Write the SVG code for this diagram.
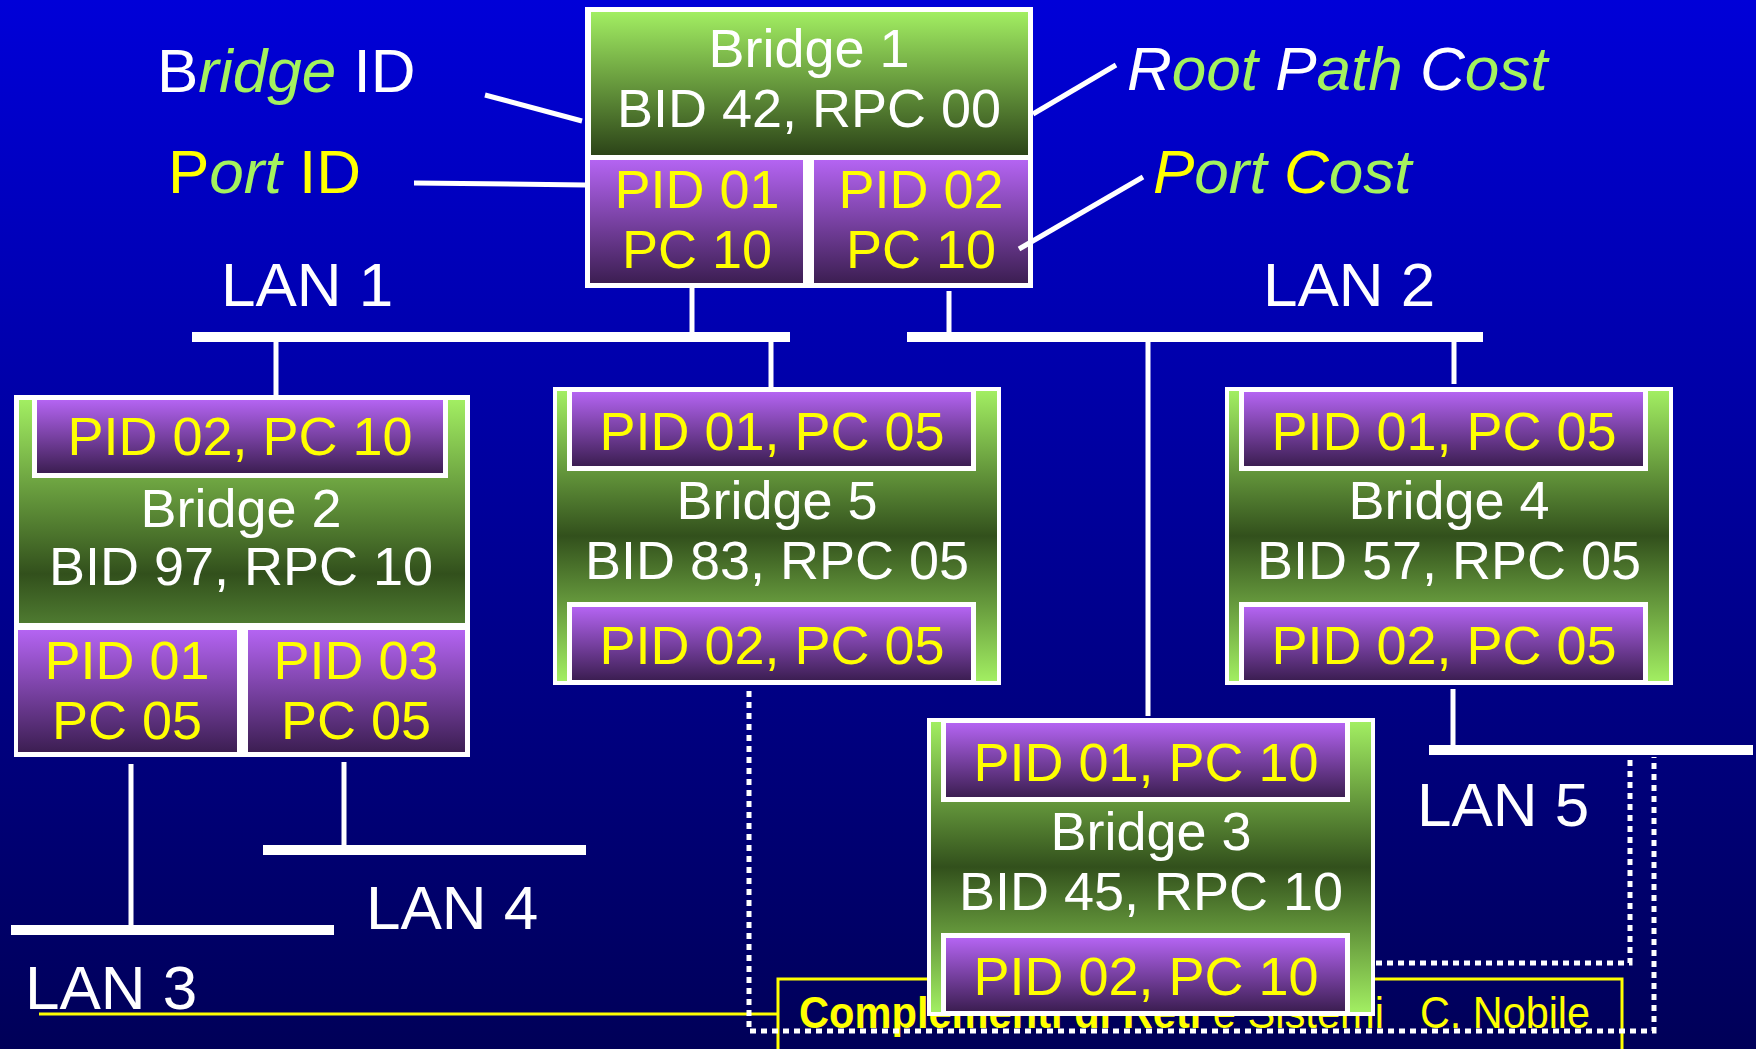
<svg xmlns="http://www.w3.org/2000/svg" width="1756" height="1049" viewBox="0 0 1756 1049">
<defs>
  <linearGradient id="bg" x1="0" y1="0" x2="0" y2="1">
    <stop offset="0" stop-color="#0000d8"/>
    <stop offset="1" stop-color="#000058"/>
  </linearGradient>
  <linearGradient id="purple" x1="0" y1="0" x2="0" y2="1">
    <stop offset="0" stop-color="#b464f2"/>
    <stop offset="1" stop-color="#3c1e52"/>
  </linearGradient>
  <linearGradient id="greenDown" x1="0" y1="0" x2="0" y2="1">
    <stop offset="0" stop-color="#a2ee62"/>
    <stop offset="1" stop-color="#2c4418"/>
  </linearGradient>
  <linearGradient id="greenMid" x1="0" y1="0" x2="0" y2="1">
    <stop offset="0" stop-color="#a2ee62"/>
    <stop offset="0.5" stop-color="#32501c"/>
    <stop offset="1" stop-color="#a2ee62"/>
  </linearGradient>
  <linearGradient id="greenB2" x1="0" y1="0" x2="0" y2="1">
    <stop offset="0" stop-color="#a2ee62"/>
    <stop offset="0.78" stop-color="#32501c"/>
    <stop offset="1" stop-color="#4e7a30"/>
  </linearGradient>
</defs>
<style>
  text { font-family: "Liberation Sans", Arial, sans-serif; }
  .w { fill: #ffffff; }
  .y { fill: #ffff00; }
  .g { fill: #a4f25e; }
  .big { font-size: 54px; text-anchor: middle; }
  .lab { font-size: 62px; }
  .it { font-style: italic; }
  .frame { fill: #ffffff; }
  .port { fill: url(#purple); }
  .wire { stroke: #ffffff; stroke-width: 5; fill: none; }
  .bar { stroke: #ffffff; stroke-width: 10; fill: none; }
  .dot { stroke: #ffffff; stroke-width: 5; stroke-dasharray: 6 5; fill: none; }
  .foot { stroke: #ffff00; stroke-width: 3; fill: none; }
</style>

<rect x="0" y="0" width="1756" height="1049" fill="url(#bg)"/>

<g id="footer">
  <line class="foot" x1="39" y1="1014" x2="778" y2="1014"/>
  <rect class="foot" x="778" y="979" width="844" height="90"/>
  <text x="799" y="1028" font-size="44" class="y" textLength="585" lengthAdjust="spacingAndGlyphs"><tspan font-weight="bold">Complementi di Reti</tspan> e Sistemi</text>
  <text x="1420" y="1028" font-size="44" class="y" textLength="170" lengthAdjust="spacingAndGlyphs">C. Nobile</text>
</g>

<g id="labels">
  <text x="157" y="92" class="lab"><tspan class="w">B</tspan><tspan class="g it">ridge</tspan><tspan class="w"> ID</tspan></text>
  <text x="168" y="193" class="lab"><tspan class="y">P</tspan><tspan class="g it">ort</tspan><tspan class="y"> ID</tspan></text>
  <text x="1127" y="90" class="lab it"><tspan class="w">R</tspan><tspan class="g">oot</tspan><tspan class="w"> P</tspan><tspan class="g">ath</tspan><tspan class="w"> C</tspan><tspan class="g">ost</tspan></text>
  <text x="1153" y="193" class="lab it"><tspan class="y">P</tspan><tspan class="g">ort </tspan><tspan class="y">C</tspan><tspan class="g">ost</tspan></text>
</g>

<g id="lan1">
  <line class="bar" x1="192" y1="337" x2="790" y2="337"/>
  <text x="221" y="306" class="lab w">LAN 1</text>
</g>
<g id="lan2">
  <line class="bar" x1="907" y1="337" x2="1483" y2="337"/>
  <text x="1263" y="306" class="lab w">LAN 2</text>
</g>
<g id="lan3">
  <line class="bar" x1="11" y1="930" x2="334" y2="930"/>
  <text x="25" y="1009" class="lab w">LAN 3</text>
</g>
<g id="lan4">
  <line class="bar" x1="263" y1="850" x2="586" y2="850"/>
  <text x="366" y="929" class="lab w">LAN 4</text>
</g>
<g id="lan5">
  <line class="bar" x1="1429" y1="750" x2="1753" y2="750"/>
  <text x="1417" y="826" class="lab w">LAN 5</text>
</g>

<g id="bridge1">
  <rect class="frame" x="585" y="7" width="448" height="281"/>
  <rect x="591" y="12" width="437" height="143" fill="url(#greenDown)"/>
  <rect class="port" x="590" y="160" width="213" height="123"/>
  <rect class="port" x="814" y="160" width="214" height="123"/>
  <text x="809" y="67" class="big w">Bridge 1</text>
  <text x="809" y="127" class="big w">BID 42, RPC 00</text>
  <text x="697" y="208" class="big y">PID 01</text>
  <text x="697" y="268" class="big y">PC 10</text>
  <text x="921" y="208" class="big y">PID 02</text>
  <text x="921" y="268" class="big y">PC 10</text>
</g>

<g id="bridge2">
  <rect class="frame" x="14" y="395" width="456" height="362"/>
  <rect x="19" y="400" width="446" height="223" fill="url(#greenB2)"/>
  <rect class="frame" x="32" y="395" width="416" height="83"/>
  <rect class="port" x="37" y="400" width="406" height="73"/>
  <rect class="port" x="18" y="630" width="219" height="122"/>
  <rect class="port" x="248" y="630" width="217" height="122"/>
  <text x="240" y="455" class="big y">PID 02, PC 10</text>
  <text x="241" y="527" class="big w">Bridge 2</text>
  <text x="241" y="585" class="big w">BID 97, RPC 10</text>
  <text x="127" y="679" class="big y">PID 01</text>
  <text x="127" y="739" class="big y">PC 05</text>
  <text x="356" y="679" class="big y">PID 03</text>
  <text x="356" y="739" class="big y">PC 05</text>
</g>

<g id="bridge5" transform="translate(553,387)">
  <rect class="frame" x="0" y="0" width="448" height="298"/>
  <rect x="4" y="4" width="440" height="290" fill="url(#greenMid)"/>
  <rect class="frame" x="14" y="0" width="409" height="84"/>
  <rect class="port" x="19" y="5" width="399" height="74"/>
  <rect class="frame" x="14" y="215" width="409" height="83"/>
  <rect class="port" x="19" y="220" width="399" height="73"/>
  <text x="219" y="63" class="big y">PID 01, PC 05</text>
  <text x="224" y="132" class="big w">Bridge 5</text>
  <text x="224" y="192" class="big w">BID 83, RPC 05</text>
  <text x="219" y="277" class="big y">PID 02, PC 05</text>
</g>

<g id="bridge4" transform="translate(1225,387)">
  <rect class="frame" x="0" y="0" width="448" height="298"/>
  <rect x="4" y="4" width="440" height="290" fill="url(#greenMid)"/>
  <rect class="frame" x="14" y="0" width="409" height="84"/>
  <rect class="port" x="19" y="5" width="399" height="74"/>
  <rect class="frame" x="14" y="215" width="409" height="83"/>
  <rect class="port" x="19" y="220" width="399" height="73"/>
  <text x="219" y="63" class="big y">PID 01, PC 05</text>
  <text x="224" y="132" class="big w">Bridge 4</text>
  <text x="224" y="192" class="big w">BID 57, RPC 05</text>
  <text x="219" y="277" class="big y">PID 02, PC 05</text>
</g>

<g id="bridge3" transform="translate(927,718)">
  <rect class="frame" x="0" y="0" width="448" height="298"/>
  <rect x="4" y="4" width="440" height="290" fill="url(#greenMid)"/>
  <rect class="frame" x="14" y="0" width="409" height="84"/>
  <rect class="port" x="19" y="5" width="399" height="74"/>
  <rect class="frame" x="14" y="215" width="409" height="83"/>
  <rect class="port" x="19" y="220" width="399" height="73"/>
  <text x="219" y="63" class="big y">PID 01, PC 10</text>
  <text x="224" y="132" class="big w">Bridge 3</text>
  <text x="224" y="192" class="big w">BID 45, RPC 10</text>
  <text x="219" y="277" class="big y">PID 02, PC 10</text>
</g>

<g id="connectors">
  <line class="wire" x1="485" y1="95" x2="582" y2="121"/>
  <line class="wire" x1="414" y1="183" x2="586" y2="185"/>
  <line class="wire" x1="1033" y1="114" x2="1116" y2="65"/>
  <line class="wire" x1="1019" y1="249" x2="1143" y2="177"/>
  <line class="wire" x1="692" y1="288" x2="692" y2="334"/>
  <line class="wire" x1="949" y1="291" x2="949" y2="334"/>
  <line class="wire" x1="276" y1="340" x2="276" y2="395"/>
  <line class="wire" x1="771" y1="340" x2="771" y2="387"/>
  <line class="wire" x1="1148" y1="340" x2="1148" y2="716"/>
  <line class="wire" x1="1454" y1="340" x2="1454" y2="384"/>
  <line class="wire" x1="1453" y1="689" x2="1453" y2="747"/>
  <line class="wire" x1="131" y1="764" x2="131" y2="927"/>
  <line class="wire" x1="344" y1="762" x2="344" y2="846"/>
  <path class="dot" d="M749,691 V1031 H1654 V757"/>
  <path class="dot" d="M1376,963 H1630 V757"/>
</g>
</svg>
